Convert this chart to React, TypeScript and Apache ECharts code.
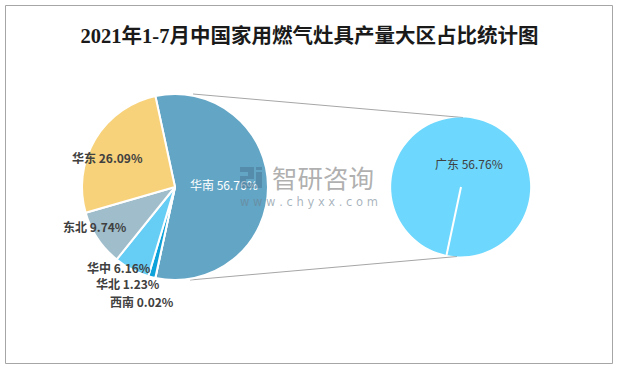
import React, { useEffect, useRef } from "react";
import * as echarts from "echarts";

const titleText = "2021年1-7月中国家用燃气灶具产量大区占比统计图";
const regionNames = ["华南", "西南", "华北", "华中", "东北", "华东"];
const regionValues = [56.76, 0.02, 1.23, 6.16, 9.74, 26.09];
const regionColors = ["#62a5c5", "#0a5f8a", "#0ea2da", "#66cdf5", "#9fbdcb", "#f7d27b"];
const subNames = ["广东"];
const subValues = [56.76];
const subColors = ["#6dd7fd"];

// layout constants
const P1 = { cx: 175, cy: 187, r: 93 };
const P2 = { cx: 461, cy: 187, r: 69.5 };
const labelPos: Record<string, [number, number]> = {
  华南: [190, 184],
  西南: [110, 301],
  华北: [96, 283],
  华中: [87, 267],
  东北: [63, 226],
  华东: [72, 157],
};

const logoD =
  "M0,0 H14 V12 H6 V16 H14 V21 H0 V9 H8 V5 H0 Z M16,5 H22 V21 H16 Z M16,0 H22 V3 H16 Z";

export default function App() {
  const ref = useRef<HTMLDivElement>(null);
  useEffect(() => {
    if (!ref.current) return;
    echarts.graphic.registerShape("logo", echarts.graphic.extendPath(logoD, {}) as any);
    const chart = echarts.init(ref.current, null, { renderer: "svg" });
    // split slice centred on the right-hand side (3 o'clock)
    const start = (regionValues[0] / 100) * 180;
    const lineAng = ((90 + 12) * Math.PI) / 180;
    const option: any = {
      animation: false,
      backgroundColor: "#ffffff",
      title: {
        text: titleText,
        left: "center",
        top: 21,
        textStyle: {
          fontFamily: "'Liberation Serif', 'Noto Sans CJK SC', serif",
          fontSize: 20.5,
          fontWeight: "bold",
          color: "#1a1a1a",
        },
      },
      graphic: [
        {
          type: "rect",
          shape: { x: 5.5, y: 5.5, width: 607, height: 358 },
          style: { fill: "none", stroke: "#a6a6a6", lineWidth: 1 },
          z: 0,
        },
        {
          type: "line",
          shape: { x1: 193, y1: 94, x2: P2.cx + 2, y2: P2.cy - P2.r },
          style: { stroke: "#a6a6a6", lineWidth: 1 },
          z: 1,
        },
        {
          type: "line",
          shape: { x1: 190, y1: 280, x2: P2.cx - 4, y2: P2.cy + P2.r },
          style: { stroke: "#a6a6a6", lineWidth: 1 },
          z: 1,
        },
        {
          type: "line",
          shape: {
            x1: P2.cx,
            y1: P2.cy,
            x2: P2.cx + P2.r * Math.cos(lineAng),
            y2: P2.cy + P2.r * Math.sin(lineAng),
          },
          style: { stroke: "#ffffff", lineWidth: 2 },
          z: 100,
        },
        {
          type: "logo",
          x: 240,
          y: 167,
          scaleX: 1,
          scaleY: 1,
          style: { fill: "rgba(70,110,140,0.45)" },
          z: 100,
        },
        {
          type: "text",
          x: 272,
          y: 176,
          style: {
            text: "智研咨询",
            fontSize: 25.5,
            fontFamily: "'Noto Sans CJK SC', sans-serif",
            fill: "rgba(150,150,150,0.75)",
            verticalAlign: "middle",
            align: "left",
          },
          z: 100,
        },
        {
          type: "text",
          x: 240,
          y: 202,
          style: {
            text: "w w w . c h y x x . c o m",
            fontSize: 11.5,
            fontFamily: "'DejaVu Sans', sans-serif",
            fill: "rgba(110,130,145,0.6)",
            verticalAlign: "middle",
            align: "left",
          },
          z: 100,
        },
      ],
      series: [
        {
          type: "pie",
          center: [P1.cx, P1.cy],
          radius: [0, P1.r],
          startAngle: start,
          clockwise: true,
          minAngle: 0,
          avoidLabelOverlap: false,
          itemStyle: { borderColor: "#ffffff", borderWidth: 2 },
          label: {
            show: true,
            position: "inside",
            formatter: (p: any) => `${p.name} ${p.value.toFixed(2)}%`,
            fontFamily: "'Noto Sans CJK SC', sans-serif",
            fontSize: 12,
            fontWeight: "bold",
            color: "#404040",
          },
          labelLine: { show: false },
          labelLayout: (p: any) => {
            const name = regionNames[p.dataIndex];
            const pos = labelPos[name];
            return { x: pos[0], y: pos[1], align: "left", verticalAlign: "middle" };
          },
          data: regionNames.map((n, i) => ({
            name: n,
            value: regionValues[i],
            itemStyle: { color: regionColors[i] },
            label:
              i === 0 ? { color: "#ffffff", fontWeight: "normal" } : undefined,
          })),
        },
        {
          type: "pie",
          center: [P2.cx, P2.cy],
          radius: [0, P2.r],
          startAngle: 258,
          itemStyle: { borderColor: "#ffffff", borderWidth: 0 },
          label: {
            show: true,
            position: "inside",
            formatter: (p: any) => `${p.name} ${p.value.toFixed(2)}%`,
            fontFamily: "'Noto Sans CJK SC', sans-serif",
            fontSize: 12,
            color: "#404040",
          },
          labelLine: { show: false },
          labelLayout: () => ({ x: 435, y: 163, align: "left", verticalAlign: "middle" }),
          data: subNames.map((n, i) => ({
            name: n,
            value: subValues[i],
            itemStyle: { color: subColors[i] },
          })),
        },
      ],
    };
    chart.setOption(option);
    return () => chart.dispose();
  }, []);
  return (
    <div
      ref={ref}
      style={{ position: "fixed", left: 0, top: 0, width: 619, height: 369, background: "#fff" }}
    />
  );
}
